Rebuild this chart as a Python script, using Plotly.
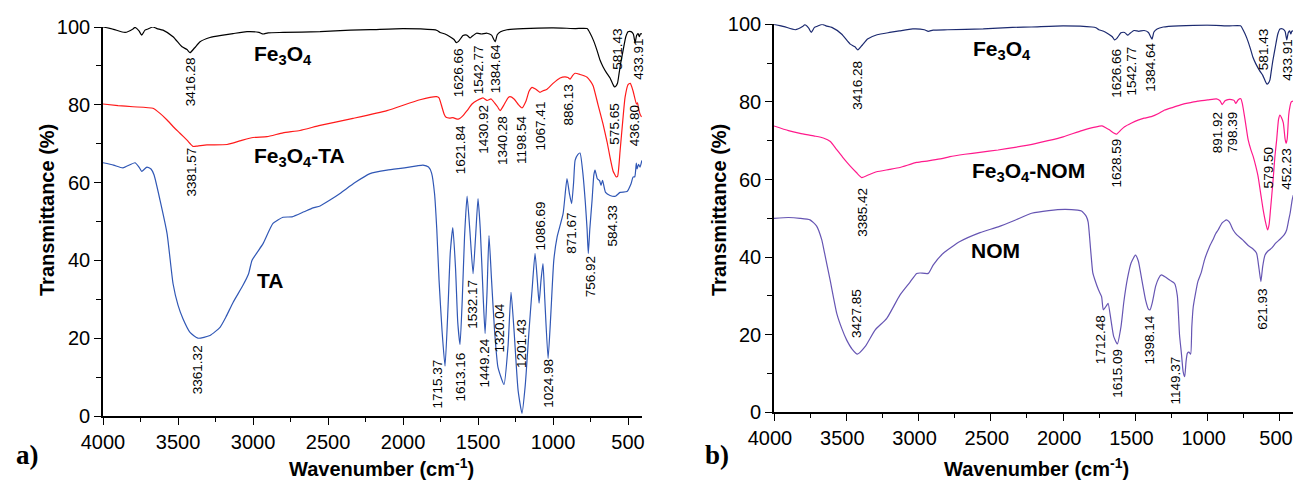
import plotly.graph_objects as go

# ---------------- data (wavenumber cm-1, transmittance %) ----------------
FE3O4 = [(4000,100.0),(3930,99.4),(3853,98.6),(3800,99.5),(3787,99.9),(3760,99.0),(3742,97.9),(3720,99.2),
         (3700,99.5),(3667,100.0),(3640,99.6),(3600,99.2),(3533,97.5),(3473,94.9),(3440,94.2),(3420,93.4),
         (3390,94.6),(3353,96.2),(3287,97.3),(3200,97.9),(3133,98.3),(3040,98.8),(2960,98.6),(2933,98.2),
         (2900,98.5),(2800,98.6),(2553,98.8),(2350,99.2),(2220,99.3),(2000,99.6),(1800,99.3),(1773,99.1),
         (1753,98.6),(1720,98.2),(1687,97.5),(1660,96.8),(1645,96.0),(1630,96.3),(1600,97.8),(1575,97.9),
         (1553,97.2),(1540,97.6),(1510,98.4),(1477,98.2),(1440,98.4),(1410,97.9),(1395,96.8),(1385,96.2),
         (1372,98.0),(1350,98.8),(1307,99.3),(1200,99.6),(1000,99.8),(850,99.6),(773,99.6),(753,98.4),
         (730,96.5),(707,94.0),(687,91.5),(667,89.8),(640,88.0),(620,86.9),(600,85.2),(590,84.6),(581,84.8),
         (570,85.6),(560,88.0),(550,90.5),(533,94.0),(515,97.5),(500,98.8),(480,98.8),(465,98.2),(453,96.0),
         (443,97.8),(433,98.3),(425,97.5),(418,98.2),(408,98.3)]

FE3O4_TA = [(4000,80.2),(3900,79.8),(3800,79.5),(3667,79.1),(3620,77.8),(3573,76.1),(3530,74.3),(3487,72.7),
            (3440,70.9),(3400,69.3),(3370,69.4),(3307,69.7),(3173,69.8),(3080,70.8),(3000,71.6),(2907,71.8),
            (2800,72.8),(2687,73.4),(2553,74.7),(2333,76.5),(2107,78.5),(1887,81.3),(1777,82.1),(1760,81.8),
            (1745,80.0),(1725,77.5),(1713,76.8),(1690,76.6),(1667,76.7),(1640,76.3),(1622,76.5),(1600,77.2),
            (1573,78.5),(1540,80.2),(1507,81.1),(1467,81.8),(1440,81.1),(1413,81.5),(1390,80.5),(1370,79.5),
            (1353,78.5),(1330,79.8),(1300,81.8),(1287,82.1),(1260,81.5),(1230,80.0),(1207,79.2),(1180,81.0),
            (1160,83.5),(1140,84.5),(1115,84.0),(1087,83.2),(1067,83.6),(1040,84.0),(1000,85.5),(953,86.9),
            (920,87.2),(900,87.0),(886,86.6),(870,87.5),(853,88.1),(820,87.8),(773,87.1),(750,86.0),(733,84.9),
            (700,80.0),(667,75.1),(640,70.5),(620,66.5),(600,63.0),(590,62.2),(580,61.5),(570,61.6),(553,68.2),
            (535,76.0),(520,81.9),(500,85.2),(485,85.5),(467,83.6),(444,80.2),(437,80.5),(430,79.0),(420,77.6),
            (410,76.9)]

TA = [(4000,65.1),(3930,64.5),(3867,63.8),(3787,65.1),(3760,64.0),(3742,62.9),(3707,64.0),(3680,63.5),
      (3660,62.0),(3620,55.5),(3573,46.9),(3533,34.0),(3500,28.5),(3467,25.0),(3420,21.5),(3367,20.0),
      (3287,20.7),(3220,22.8),(3180,25.5),(3133,29.2),(3067,33.6),(3030,36.5),(3007,40.0),(2973,42.0),
      (2933,44.3),(2867,49.5),(2800,51.1),(2740,51.2),(2660,52.5),(2600,53.5),(2553,54.0),(2487,55.5),
      (2420,57.2),(2320,60.0),(2220,62.3),(2107,63.2),(1990,63.8),(1907,64.3),(1867,64.5),(1830,64.0),
      (1810,62.5),(1790,57.2),(1775,48.0),(1760,35.0),(1740,22.0),(1720,12.8),(1700,28.0),(1685,42.0),
      (1668,48.4),(1650,38.0),(1635,24.0),(1620,18.4),(1605,30.0),(1590,46.0),(1573,56.5),(1555,48.0),
      (1533,36.6),(1515,47.0),(1500,55.9),(1485,48.0),(1465,30.0),(1453,21.2),(1440,32.0),(1427,46.4),
      (1410,35.0),(1390,22.0),(1367,12.5),(1327,8.1),(1300,18.0),(1280,31.8),(1260,22.0),(1233,6.6),
      (1207,0.7),(1185,8.0),(1160,22.0),(1140,32.3),(1120,41.8),(1105,35.0),(1093,29.0),(1080,35.0),
      (1067,39.2),(1055,30.0),(1033,14.8),(1015,26.0),(995,40.0),(973,46.0),(933,52.0),(907,61.0),
      (890,57.0),(876,54.6),(863,60.0),(853,65.7),(835,67.2),(820,67.6),(800,62.0),(785,55.0),(773,48.0),
      (765,41.8),(755,48.0),(740,55.4),(728,62.0),(720,63.2),(705,61.0),(690,60.5),(680,59.3),(670,60.6),
      (650,57.5),(620,56.7),(584,56.5),(553,57.5),(507,57.7),(480,59.7),(467,61.4),(455,61.5),(445,65.0),
      (440,63.5),(430,64.7),(420,64.0),(408,65.7)]

FE3O4_NOM = [(4000,73.8),(3900,72.6),(3820,71.9),(3720,71.2),(3659,70.7),(3610,69.8),(3566,67.7),(3520,65.5),
             (3474,63.5),(3430,61.8),(3393,60.5),(3340,61.3),(3290,62.0),(3200,62.6),(3129,63.1),(3013,64.4),
             (2933,64.8),(2850,65.3),(2783,65.9),(2680,66.5),(2576,67.0),(2450,67.6),(2333,68.3),(2200,69.2),
             (2105,70.0),(2000,71.0),(1870,72.6),(1780,73.5),(1731,73.8),(1700,73.2),(1680,72.8),(1650,72.0),
             (1630,71.7),(1600,72.8),(1575,73.6),(1530,74.5),(1482,75.3),(1440,75.8),(1390,76.2),(1340,77.0),
             (1298,77.9),(1240,78.6),(1182,79.3),(1120,79.8),(1069,80.2),(1000,80.5),(940,80.8),(915,80.3),
             (900,79.3),(880,80.3),(860,80.6),(835,80.6),(818,80.4),(805,79.6),(790,80.5),(771,80.8),(760,79.5),
             (740,75.0),(720,70.2),(700,67.5),(685,65.9),(668,63.5),(651,60.7),(630,55.5),(616,52.1),(600,49.0),
             (586,47.0),(575,48.5),(565,52.5),(548,59.7),(535,66.0),(523,70.2),(510,75.5),(500,76.6),(490,76.0),
             (477,74.6),(465,70.5),(458,69.3),(450,70.5),(440,76.5),(431,78.8),(422,80.0),(410,80.2)]

NOM = [(4000,50.0),(3900,50.2),(3820,50.0),(3751,49.6),(3705,48.0),(3670,44.5),(3650,41.0),(3612,34.1),
       (3566,25.5),(3530,21.5),(3497,18.6),(3460,16.3),(3423,15.0),(3370,16.9),(3301,21.2),(3220,24.2),
       (3129,30.2),(3060,33.5),(3013,35.8),(2990,35.9),(2933,35.8),(2898,38.0),(2829,41.0),(2714,44.0),
       (2575,46.3),(2449,47.8),(2333,49.5),(2218,51.3),(2100,52.0),(1988,52.3),(1900,52.1),(1873,51.9),
       (1840,50.5),(1827,49.0),(1810,42.0),(1795,36.0),(1780,34.1),(1755,31.5),(1734,29.8),(1722,26.4),
       (1700,27.5),(1689,28.1),(1670,24.0),(1650,19.5),(1625,17.6),(1600,22.0),(1580,28.5),(1555,34.5),
       (1530,38.5),(1500,40.5),(1480,39.0),(1455,34.0),(1430,29.0),(1410,26.6),(1399,26.4),(1385,28.0),
       (1360,32.5),(1340,34.5),(1321,35.4),(1290,34.8),(1260,34.0),(1229,33.2),(1210,30.0),(1195,20.0),
       (1182,15.2),(1170,10.5),(1159,9.2),(1150,13.0),(1141,15.2),(1130,15.5),(1118,15.0),(1110,22.0),
       (1100,27.2),(1068,33.7),(1045,36.0),(1022,39.3),(990,42.5),(965,44.4),(945,46.0),(928,47.0),
       (900,48.8),(870,49.6),(850,49.0),(824,47.0),(800,45.8),(760,44.5),(720,43.0),(690,42.2),(662,41.0),
       (645,37.0),(632,33.7),(620,37.5),(604,40.5),(585,41.5),(558,42.3),(530,43.6),(500,44.6),(470,45.8),
       (454,47.0),(440,49.5),(430,51.3),(416,54.7),(408,56.0)]

# peak labels: (text, wavenumber position, transmittance position)
PEAKS_A = [("3416.28", 3420, 85.8), ("3381.57", 3413, 62.6), ("3361.32", 3373, 11.8),
           ("1626.66", 1633, 88.1), ("1542.77", 1500, 88.9), ("1384.64", 1387, 89.4),
           ("581.43", 573, 94.2), ("433.91", 431, 91.7),
           ("1621.84", 1620, 68.3), ("1430.92", 1464, 73.7), ("1340.28", 1342, 70.9),
           ("1198.54", 1209, 70.9), ("1067.41", 1087, 74.7), ("886.13", 898, 79.9),
           ("575.65", 587, 74.9), ("436.80", 460, 74.5),
           ("1715.37", 1771, 8.2), ("1613.16", 1620, 9.9), ("1532.17", 1538, 28.7),
           ("1449.24", 1460, 13.5), ("1320.04", 1360, 22.5), ("1201.43", 1209, 18.7),
           ("1086.69", 1087, 49.0), ("1024.98", 1031, 8.4), ("871.67", 876, 47.0),
           ("756.92", 753, 35.7), ("584.33", 605, 48.8)]

PEAKS_B = [("3416.28", 3419, 84.4), ("3385.42", 3394, 51.6), ("3427.85", 3426, 25.6),
           ("1626.66", 1630, 87.4), ("1542.77", 1526, 88.0), ("1384.64", 1393, 89.0),
           ("581.43", 609, 93.4), ("433.91", 454, 90.8),
           ("1628.59", 1630, 64.3), ("891.92", 927, 72.0), ("798.39", 824, 72.0),
           ("579.50", 582, 62.9), ("452.23", 461, 62.7),
           ("1712.48", 1745, 18.6), ("1615.09", 1630, 10.1), ("1398.14", 1404, 18.6),
           ("1149.37", 1222, 8.1), ("621.93", 627, 26.6)]

# sample names: (text, wavenumber, transmittance)
NAMES_A = [("Fe<sub>3</sub>O<sub>4</sub>", 2800, 92.7),
           ("Fe<sub>3</sub>O<sub>4</sub>-TA", 2687, 66.5),
           ("TA", 2887, 34.9)]
NAMES_B = [("Fe<sub>3</sub>O<sub>4</sub>", 2423, 93.4),
           ("Fe<sub>3</sub>O<sub>4</sub>-NOM", 2243, 62.0),
           ("NOM", 2465, 41.8)]

X_TICKS = [4000, 3500, 3000, 2500, 2000, 1500, 1000, 500]
Y_TICKS = [0, 20, 40, 60, 80, 100]

# ---------------- figure ----------------
W, H = 1295, 486
fig = go.Figure()

def add_series(pairs, color, xa, ya):
    wn = [p[0] for p in pairs]
    t = [p[1] for p in pairs]
    fig.add_trace(go.Scatter(x=wn, y=t, mode="lines", xaxis=xa, yaxis=ya,
                             line=dict(color=color, width=1.2, shape="spline", smoothing=0.5),
                             showlegend=False, hoverinfo="skip"))

add_series(FE3O4, "#000000", "x", "y")
add_series(FE3O4_TA, "#ff1a1a", "x", "y")
add_series(TA, "#3057b5", "x", "y")
add_series(FE3O4, "#1c2a70", "x2", "y2")
add_series(FE3O4_NOM, "#ff1a8c", "x2", "y2")
add_series(NOM, "#6655b3", "x2", "y2")

SANS = "Liberation Sans, Arial, sans-serif"
TICKFONT = dict(family=SANS, size=20, color="black")

def xax(domain, rng, shift=0):
    return dict(domain=domain, range=rng, showline=True, linecolor="black", linewidth=1.6,
                ticks="outside", ticklen=7, tickwidth=1.4, tickcolor="black",
                tickvals=X_TICKS, ticktext=[str(v) for v in X_TICKS], tickfont=TICKFONT,
                ticklabeloverflow="allow", ticklabelshift=shift,
                minor=dict(ticks="outside", ticklen=4, tickwidth=1.2, tickcolor="black", dtick=250,
                           tick0=250, showgrid=False),
                showgrid=False, zeroline=False, fixedrange=True, automargin=False)

def yax(domain, anchor):
    return dict(domain=domain, range=[0, 100], showline=True, linecolor="black", linewidth=1.6,
                ticks="outside", ticklen=7, tickwidth=1.4, tickcolor="black",
                tickvals=Y_TICKS, ticktext=[str(v) for v in Y_TICKS], tickfont=TICKFONT,
                ticklabeloverflow="allow",
                minor=dict(ticks="outside", ticklen=5, tickwidth=1.2, tickcolor="black", dtick=10,
                           tick0=10, showgrid=False),
                showgrid=False, zeroline=False, anchor=anchor, fixedrange=True, automargin=False)

fig.update_layout(
    width=W, height=H, margin=dict(l=0, r=0, t=0, b=0, autoexpand=False),
    paper_bgcolor="white", plot_bgcolor="white",
    xaxis=dict(**xax([103 / W, 642 / W], [4000, 407]), anchor="y"),
    yaxis=yax([1 - 416 / H, 1 - 27 / H], "x"),
    xaxis2=dict(**xax([774 / W, 1293 / W], [4000, 410], shift=4), anchor="y2"),
    yaxis2=yax([1 - 412.3 / H, 1 - 24.3 / H], "x2"),
)

ann = []
LABFONT = dict(family=SANS, size=13.5, color="black")
for txt, xw, yt in PEAKS_A:
    ann.append(dict(text=txt, x=xw, y=yt, xref="x", yref="y", showarrow=False, textangle=-90,
                    font=LABFONT, xanchor="center", yanchor="middle"))
for txt, xw, yt in PEAKS_B:
    ann.append(dict(text=txt, x=xw, y=yt, xref="x2", yref="y2", showarrow=False, textangle=-90,
                    font=LABFONT, xanchor="center", yanchor="middle"))
NAMEFONT = dict(family=SANS, size=21, color="black")
for txt, xw, yt in NAMES_A:
    ann.append(dict(text="<b>" + txt + "</b>", x=xw, y=yt, xref="x", yref="y", showarrow=False,
                    font=NAMEFONT, xanchor="center", yanchor="middle"))
for txt, xw, yt in NAMES_B:
    ann.append(dict(text="<b>" + txt + "</b>", x=xw, y=yt, xref="x2", yref="y2", showarrow=False,
                    font=NAMEFONT, xanchor="center", yanchor="middle"))

YTITLEFONT = dict(family=SANS, size=20, color="black")
XTITLEFONT = dict(family=SANS, size=20, color="black")
for px in (47, 719):
    ann.append(dict(text="<b>Transmittance (%)</b>", x=px / W, y=1 - 210 / H, xref="paper", yref="paper",
                    showarrow=False, textangle=-90, font=YTITLEFONT, xanchor="center", yanchor="middle"))
for px in (382, 1036):
    ann.append(dict(text="<b>Wavenumber (cm<sup>-1</sup>)</b>", x=px / W, y=1 - 467 / H, xref="paper",
                    yref="paper", showarrow=False, font=XTITLEFONT, xanchor="center", yanchor="middle"))
PANELFONT = dict(family="Liberation Serif, Times New Roman, serif", size=27, color="black")
for txt, px in (("a)", 27), ("b)", 717)):
    ann.append(dict(text="<b>" + txt + "</b>", x=px / W, y=1 - 455 / H, xref="paper", yref="paper",
                    showarrow=False, font=PANELFONT, xanchor="center", yanchor="middle"))

fig.update_layout(annotations=ann)
fig.write_html("out.html")
